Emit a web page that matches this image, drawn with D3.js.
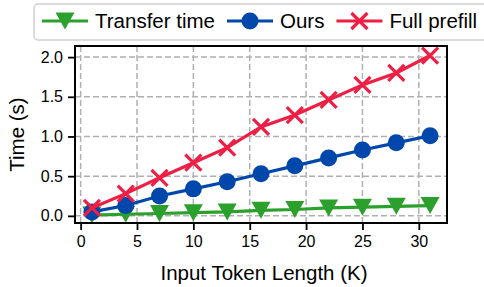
<!DOCTYPE html>
<html>
<head>
<meta charset="utf-8">
<script src="https://cdn.jsdelivr.net/npm/d3@7"></script>
<style>
  body { margin: 0; background: #fff; }
  svg { display: block; font-family: "Liberation Sans", Arial, sans-serif; }
</style>
</head>
<body>
<div id="chart"></div>
<script>
// data
var tokenLen = [1, 4, 7, 10, 13, 16, 19, 22, 25, 28, 31];
var transferTime = [0.01, 0.02, 0.03, 0.04, 0.05, 0.07, 0.08, 0.10, 0.11, 0.12, 0.13];
var ours = [0.05, 0.13, 0.25, 0.34, 0.43, 0.53, 0.63, 0.73, 0.83, 0.92, 1.01];
var fullPrefill = [0.10, 0.28, 0.48, 0.67, 0.86, 1.12, 1.27, 1.46, 1.65, 1.80, 2.02];
var xTicks = [0, 5, 10, 15, 20, 25, 30];
var yTicks = [0, 0.5, 1.0, 1.5, 2.0];

var series = [
  {name: "Transfer time", values: transferTime, color: "#2ca02c", marker: "tri"},
  {name: "Ours", values: ours, color: "#0047ab", marker: "circle"},
  {name: "Full prefill", values: fullPrefill, color: "#ee1f45", marker: "x"}
];

var W = 484, H = 287;
// plot box (window.top is reserved, so prefix these)
var pLeft = 75, pRight = 447, pTop = 46, pBottom = 223;

var svg = d3.select("#chart")
  .append("svg")
  .attr("width", W).attr("height", H);

var x = d3.scaleLinear().domain([-0.5, 32.5]).range([pLeft, pRight]);
var y = d3.scaleLinear().domain([-0.09, 2.14]).range([pBottom, pTop]);

// grid
var grid = svg.append("g");
grid.selectAll(".gx")
  .data(xTicks)
  .enter().append("line")
  .attr("x1", function(d) { return x(d); }).attr("x2", function(d) { return x(d); })
  .attr("y1", pTop).attr("y2", pBottom)
  .attr("stroke", "#b0b0b0").attr("stroke-width", 1.5)
  .attr("stroke-dasharray", "6,3");
grid.selectAll(".gy")
  .data(yTicks)
  .enter().append("line")
  .attr("y1", function(d) { return y(d); }).attr("y2", function(d) { return y(d); })
  .attr("x1", pLeft).attr("x2", pRight)
  .attr("stroke", "#b0b0b0").attr("stroke-width", 1.5)
  .attr("stroke-dasharray", "6,3");

// axes
var xAxis = svg.append("g")
  .attr("transform", "translate(0," + pBottom + ")")
  .call(d3.axisBottom(x).tickValues(xTicks).tickFormat(d3.format("d")).tickSizeOuter(0).tickSize(7).tickPadding(6));
var yAxis = svg.append("g")
  .attr("transform", "translate(" + pLeft + ",0)")
  .call(d3.axisLeft(y).tickValues(yTicks).tickFormat(d3.format(".1f")).tickSizeOuter(0).tickSize(7).tickPadding(5));

[xAxis, yAxis].forEach(function(a) {
  a.select(".domain").remove();
  a.selectAll(".tick line").attr("stroke", "#000").attr("stroke-width", 1.8);
  a.selectAll(".tick text").attr("fill", "#000").style("font-size", "16px")
    .style("font-family", "Liberation Sans, Arial, sans-serif");
});

// markers
function drawMarker(g, type, color) {
  if (type == "circle") {
    g.append("circle").attr("r", 8.5).attr("fill", color);
  } else if (type == "tri") {
    g.append("path").attr("d", "M-9.5,-8.5L9.5,-8.5L0,8.5Z").attr("fill", color);
  } else {
    g.append("path").attr("d", "M-8,-8L8,8M-8,8L8,-8")
      .attr("stroke", color).attr("stroke-width", 3.2).attr("fill", "none");
  }
}

var line = d3.line()
  .x(function(d) { return x(d[0]); })
  .y(function(d) { return y(d[1]); });

series.forEach(function(s) {
  var pts = tokenLen.map(function(t, i) { return [t, s.values[i]]; });
  var g = svg.append("g");
  g.append("path")
    .attr("d", line(pts))
    .attr("fill", "none")
    .attr("stroke", s.color)
    .attr("stroke-width", 3.2);
  pts.forEach(function(p) {
    var m = g.append("g").attr("transform", "translate(" + x(p[0]) + "," + y(p[1]) + ")");
    drawMarker(m, s.marker, s.color);
  });
});

// frame
svg.append("rect")
  .attr("x", pLeft).attr("y", pTop)
  .attr("width", pRight - pLeft).attr("height", pBottom - pTop)
  .attr("fill", "none").attr("stroke", "#000").attr("stroke-width", 2);

// axis labels
svg.append("text")
  .attr("x", (pLeft + pRight) / 2 + 3).attr("y", 280)
  .attr("text-anchor", "middle")
  .style("font-size", "20.5px")
  .text("Input Token Length (K)");
svg.append("text")
  .attr("transform", "translate(24," + (pTop + pBottom) / 2 + ") rotate(-90)")
  .attr("text-anchor", "middle")
  .style("font-size", "20.5px")
  .text("Time (s)");

// legend
var legend = svg.append("g");
legend.append("rect")
  .attr("x", 34).attr("y", 4)
  .attr("width", 470).attr("height", 36)
  .attr("rx", 4)
  .attr("fill", "#fff").attr("fill-opacity", 0.85)
  .attr("stroke", "#d0d0d0").attr("stroke-width", 1.5);

var lx = 42, ly = 21;
series.forEach(function(s) {
  var item = legend.append("g");
  item.append("line")
    .attr("x1", lx).attr("x2", lx + 46)
    .attr("y1", ly).attr("y2", ly)
    .attr("stroke", s.color).attr("stroke-width", 3.2);
  var m = item.append("g").attr("transform", "translate(" + (lx + 23) + "," + ly + ")");
  drawMarker(m, s.marker, s.color);
  var t = item.append("text")
    .attr("x", lx + 53).attr("y", 28)
    .style("font-size", "20.5px")
    .text(s.name);
  lx = lx + 53 + t.node().getComputedTextLength() + 12;
});
</script>
</body>
</html>
